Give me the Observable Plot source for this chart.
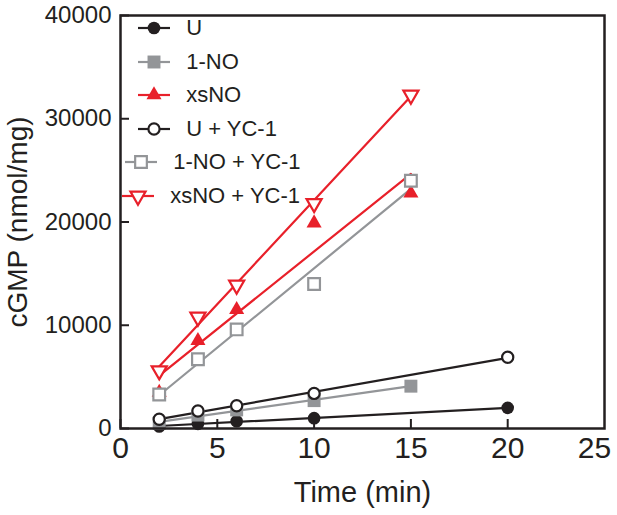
<!DOCTYPE html>
<html>
<head>
<meta charset="utf-8">
<script src="https://cdn.jsdelivr.net/npm/d3@7"></script>
<script src="https://cdn.jsdelivr.net/npm/@observablehq/plot@0.6"></script>
<style>
  html, body { margin: 0; padding: 0; background: #fff; }
  #wrap { position: relative; width: 617px; height: 515px; font-family: "Liberation Sans", Arial, sans-serif; }
  #legend { position: absolute; left: 0; top: 0; }
  .row { position: absolute; display: flex; align-items: center; height: 30px; font-size: 22px; color: #231f20; white-space: pre; }
  .row svg { display: block; margin-right: 3px; }
</style>
</head>
<body>
<div id="wrap"><div id="legend"></div></div>
<script>
// ---- data ----
const seriesNames = ["U", "1-NO", "xsNO", "U + YC-1", "1-NO + YC-1", "xsNO + YC-1"];
const timeA = [2, 4, 6, 10, 20];
const timeB = [2, 4, 6, 10, 15];
const valU = [200, 450, 700, 1000, 2000];
const val1NO = [500, 1300, 1800, 2700, 4100];
const valXsNO = [3500, 8500, 11500, 19900, 22800];
const valUYC = [900, 1700, 2200, 3400, 6900];
const val1NOYC = [3300, 6700, 9600, 14000, 24000];
const valXsNOYC = [5600, 10800, 13900, 21800, 32300];
const xTicks = [0, 5, 10, 15, 20, 25];
const yTicks = [0, 10000, 20000, 30000, 40000];
const xLabel = "Time (min)";
const yLabel = "cGMP (nmol/mg)";

// ---- styles ----
const BLACK = "#231f20", GRAY = "#939598", RED = "#e8202a";
const triangleDown = {
  draw(context, size) {
    const y = -Math.sqrt(size / (Math.sqrt(3) * 3));
    context.moveTo(0, -y * 2);
    context.lineTo(-Math.sqrt(3) * y, y);
    context.lineTo(Math.sqrt(3) * y, y);
    context.closePath();
  }
};
const series = [
  {name: seriesNames[0], t: timeA, v: valU,      color: BLACK, symbol: "circle",   filled: true,  r: 6.3, legendShift: 0},
  {name: seriesNames[1], t: timeB, v: val1NO,    color: GRAY,  symbol: "square",   filled: true,  r: 7.3, legendShift: 0},
  {name: seriesNames[2], t: timeB, v: valXsNO,   color: RED,   symbol: "triangle", filled: true,  r: 5.6, legendShift: 0},
  {name: seriesNames[3], t: timeA, v: valUYC,    color: BLACK, symbol: "circle",   filled: false, r: 5.6, legendShift: 0},
  {name: seriesNames[4], t: timeB, v: val1NOYC,  color: GRAY,  symbol: "square",   filled: false, r: 6.6, legendShift: -13},
  {name: seriesNames[5], t: timeB, v: valXsNOYC, color: RED,   symbol: triangleDown, filled: false, r: 5.6, legendShift: -16}
];
series.forEach(s => s.data = s.t.map((t, i) => ({time: t, value: s.v[i]})));

const marks = [];
series.forEach(s => {
  marks.push(Plot.linearRegressionY(s.data, {x: "time", y: "value", stroke: s.color, strokeWidth: 2.2, ci: 0}));
});
series.forEach(s => {
  marks.push(Plot.dot(s.data, {
    x: "time", y: "value", symbol: () => s.symbol, r: s.r,
    fill: s.filled ? s.color : "white",
    stroke: s.filled ? "none" : s.color,
    strokeWidth: s.filled ? 0 : 2.2
  }));
});

const lastX = xTicks[xTicks.length - 1];
const chart = Plot.plot({
  width: 617, height: 515,
  marginLeft: 120, marginRight: 13, marginTop: 15, marginBottom: 87,
  style: {fontFamily: "Liberation Sans, Arial, sans-serif", background: "white", color: BLACK},
  symbol: {type: "identity"},
  x: {domain: [0, 25]},
  y: {domain: [0, 40000]},
  marks: [
    Plot.axisX(xTicks.slice(0, -1), {tickSize: -9, tickPadding: 17, fontSize: 30, strokeWidth: 2, label: null, tickFormat: d => String(d)}),
    Plot.axisX([lastX], {tickSize: 0, tickPadding: 8, fontSize: 30, label: null, dx: -10, tickFormat: d => String(d)}),
    Plot.axisY(yTicks, {tickSize: -9, tickPadding: 18, fontSize: 24, strokeWidth: 2, label: null, tickFormat: d => String(d)}),
    Plot.text([xLabel], {frameAnchor: "bottom", dy: 73, fontSize: 29, fill: BLACK}),
    Plot.text([yLabel], {frameAnchor: "left", textAnchor: "middle", rotate: -90, dx: -102, fontSize: 28, fill: BLACK}),
    ...marks,
    Plot.frame({stroke: BLACK, strokeWidth: 2.5})
  ]
});
document.getElementById("wrap").prepend(chart);

// ---- legend ----
const legend = document.getElementById("legend");
series.forEach((s, i) => {
  const row = document.createElement("div");
  row.className = "row";
  row.style.left = (137 + s.legendShift) + "px";
  row.style.top = (13 + i * 33.5) + "px";
  const W = 34, H = 30;
  const svg = d3.create("svg").attr("width", W).attr("height", H);
  svg.append("line").attr("x1", 1).attr("x2", W - 1).attr("y1", H / 2).attr("y2", H / 2)
    .attr("stroke", s.color).attr("stroke-width", 2.2);
  const type = typeof s.symbol === "string"
    ? ({circle: d3.symbolCircle, square: d3.symbolSquare, triangle: d3.symbolTriangle})[s.symbol]
    : s.symbol;
  svg.append("path").attr("transform", `translate(${W / 2},${H / 2})`)
    .attr("d", d3.symbol(type, Math.PI * s.r * s.r)())
    .attr("fill", s.filled ? s.color : "white")
    .attr("stroke", s.filled ? "none" : s.color)
    .attr("stroke-width", s.filled ? 0 : 2.2);
  row.appendChild(svg.node());
  const span = document.createElement("span");
  span.textContent = "  " + s.name;
  row.appendChild(span);
  legend.appendChild(row);
});
</script>
</body>
</html>
